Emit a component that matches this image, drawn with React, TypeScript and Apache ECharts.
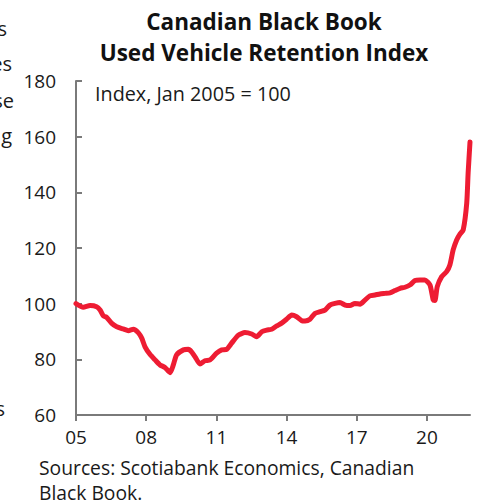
import React, { useEffect, useRef } from "react";
import * as echarts from "echarts";

// Decimal year of each observation and the index value (Jan 2005 = 100)
const years: number[] = [
  2005.0, 2005.31, 2005.6, 2005.88, 2006.03, 2006.17, 2006.31, 2006.53, 2006.74, 2007.02,
  2007.24, 2007.45, 2007.66, 2007.81, 2007.95, 2008.16, 2008.38, 2008.59, 2008.8, 2009.02,
  2009.16, 2009.3, 2009.59, 2009.8, 2009.94, 2010.09, 2010.3, 2010.51, 2010.73, 2011.01,
  2011.23, 2011.44, 2011.65, 2011.94, 2012.22, 2012.51, 2012.72, 2012.94, 2013.15, 2013.36,
  2013.58, 2013.79, 2014.0, 2014.22, 2014.43, 2014.65, 2014.79, 2015.0, 2015.21, 2015.43,
  2015.64, 2015.85, 2016.07, 2016.28, 2016.5, 2016.71, 2016.92, 2017.14, 2017.35, 2017.56,
  2017.78, 2017.99, 2018.21, 2018.42, 2018.63, 2018.85, 2019.06, 2019.27, 2019.49, 2019.7,
  2019.91, 2020.13, 2020.27, 2020.34, 2020.44, 2020.63, 2020.84, 2020.98, 2021.12, 2021.27,
  2021.41, 2021.55, 2021.7, 2021.76, 2021.84,
];
const values: number[] = [
  100.0, 98.7, 99.3, 98.9, 97.7, 95.6, 95.1, 92.9, 91.7, 90.9,
  90.3, 90.8, 89.6, 87.6, 84.5, 81.8, 79.8, 78.0, 77.1, 75.2,
  78.0, 81.6, 83.4, 83.6, 82.7, 80.9, 78.3, 79.5, 79.8, 82.2,
  83.4, 83.6, 85.8, 88.7, 89.6, 89.1, 88.1, 89.9, 90.5, 90.8,
  92.0, 93.0, 94.4, 95.9, 95.3, 93.9, 93.8, 94.4, 96.5, 97.1,
  97.7, 99.5, 100.1, 100.4, 99.5, 99.3, 100.1, 99.8, 101.3, 102.8,
  103.1, 103.5, 103.7, 103.9, 104.7, 105.5, 105.9, 106.7, 108.3, 108.5,
  108.5, 106.7, 101.3, 101.1, 106.1, 109.7, 111.5, 113.9, 119.3, 122.9,
  125.0, 126.5, 136.1, 146.9, 158.1,
];
const baseYear = 2005;
const yTicks = { min: 60, max: 180, step: 20 };
const xStep = 3;
const titleLines = ["Canadian Black Book", "Used Vehicle Retention Index"];
const unitNote = "Index, Jan 2005 = 100";
const sourceLines = ["Sources: Scotiabank Economics, Canadian", "Black Book."];
const leftFragments = ["s", "es", "se", "g", "s"];

export default function App() {
  const ref = useRef<HTMLDivElement>(null);
  useEffect(() => {
    if (!ref.current) return;
    const chart = echarts.init(ref.current, undefined, { renderer: "svg" });
    const font = "'Open Sans', sans-serif";
    const data = years.map((y, i) => [y - baseYear, values[i]]);
    const fragY = [28, 63, 100, 135, 408];
    const fragX = [7, 12, 14, 12, 5];
    chart.setOption({
      animation: false,
      backgroundColor: "#ffffff",
      grid: { left: 76, right: 9, top: 81, bottom: 87 },
      xAxis: {
        type: "value",
        min: 0,
        max: years[years.length - 1] - baseYear,
        interval: xStep,
        splitLine: { show: false },
        axisLine: { show: true, lineStyle: { color: "#7a7a7a", width: 2 } },
        axisTick: { show: true, length: 6, lineStyle: { color: "#7a7a7a", width: 2 } },
        axisLabel: {
          margin: 12,
          color: "#1a1a1a",
          fontSize: 19,
          fontFamily: font,
          showMaxLabel: false,
          formatter: (v: number) => String(Math.round(v + baseYear) % 100).padStart(2, "0"),
        },
      },
      yAxis: {
        type: "value",
        min: yTicks.min,
        max: yTicks.max,
        interval: yTicks.step,
        splitLine: { show: false },
        axisLine: { show: true, lineStyle: { color: "#7a7a7a", width: 2 } },
        axisTick: { show: true, inside: true, length: 6, lineStyle: { color: "#7a7a7a", width: 2 } },
        axisLabel: { margin: 20, color: "#1a1a1a", fontSize: 19, fontFamily: font },
      },
      series: [
        {
          type: "line",
          data,
          showSymbol: false,
          symbol: "none",
          smooth: 0.2,
          lineStyle: { color: "#EE1C33", width: 5, join: "round", cap: "round" },
          z: 3,
        },
      ],
      graphic: [
        ...titleLines.map((t, i) => ({
          type: "text",
          x: 264,
          y: 21 + i * 31,
          style: {
            text: t,
            fill: "#111",
            font: `bold 22.5px ${font}`,
            textAlign: "center",
            textVerticalAlign: "middle",
          },
        })),
        {
          type: "text",
          x: 95,
          y: 93,
          style: { text: unitNote, fill: "#1a1a1a", font: `19.8px ${font}`, textVerticalAlign: "middle" },
        },
        ...sourceLines.map((t, i) => ({
          type: "text",
          x: 39,
          y: 467 + i * 25,
          style: { text: t, fill: "#1a1a1a", font: `19.3px ${font}`, textVerticalAlign: "middle" },
        })),
        ...leftFragments.map((t, i) => ({
          type: "text",
          x: fragX[i],
          y: fragY[i],
          style: { text: t, fill: "#1a1a1a", font: `20px ${font}`, textAlign: "right", textVerticalAlign: "middle" },
        })),
      ],
    });
    return () => chart.dispose();
  }, []);
  return <div ref={ref} style={{ width: 479, height: 502, position: "absolute", left: 0, top: 0 }} />;
}
